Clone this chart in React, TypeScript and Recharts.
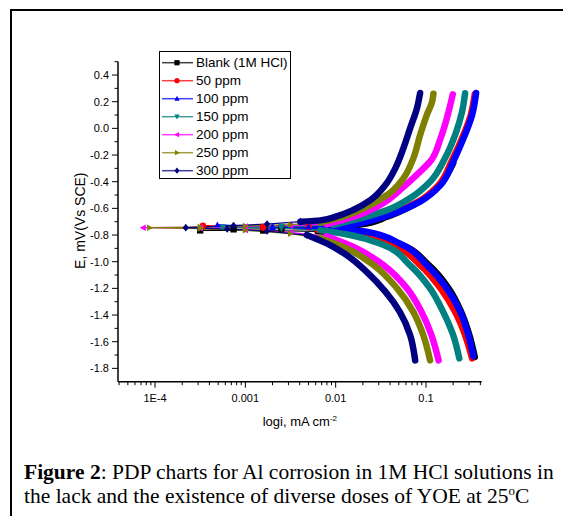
import React from 'react';
import { LineChart, Line, XAxis, YAxis } from 'recharts';

// [current i (mA cm^-2), potential E (V)], from cathodic end through Ecorr to anodic end
const blank: [number, number][] = [
  [0.347, -1.715], [0.302, -1.55], [0.245, -1.376], [0.178, -1.2], [0.107, -1.025],
  [0.0513, -0.87], [0.02, -0.79], [0.00631, -0.772], [0.00158, -0.766], [0.000316, -0.765],
  [0.00074, -0.757], [0.00251, -0.752], [0.00631, -0.745], [0.0112, -0.74], [0.0186, -0.722],
  [0.0372, -0.663], [0.0724, -0.575], [0.12, -0.475], [0.17, -0.35], [0.2, -0.263],
];
const ppm50: [number, number][] = [
  [0.324, -1.725], [0.271, -1.55], [0.21, -1.376], [0.145, -1.2], [0.0861, -1.025],
  [0.0437, -0.875], [0.0186, -0.79], [0.00631, -0.76], [0.00158, -0.745], [0.000339, -0.73],
  [0.00158, -0.737], [0.00501, -0.74], [0.0107, -0.735], [0.0209, -0.7], [0.0417, -0.64],
  [0.0822, -0.55], [0.138, -0.425], [0.191, -0.25], [0.251, -0.075], [0.313, 0.1], [0.347, 0.255],
];
const ppm100: [number, number][] = [
  [0.335, -1.71], [0.295, -1.55], [0.24, -1.376], [0.17, -1.2], [0.102, -1.025],
  [0.0513, -0.863], [0.0219, -0.775], [0.00794, -0.755], [0.002, -0.745], [0.00049, -0.725],
  [0.002, -0.735], [0.00501, -0.74], [0.0112, -0.735], [0.0219, -0.7], [0.0437, -0.64],
  [0.0861, -0.55], [0.145, -0.425], [0.2, -0.25], [0.26, -0.075], [0.324, 0.1], [0.359, 0.265],
];
const ppm150: [number, number][] = [
  [0.234, -1.725], [0.2, -1.55], [0.155, -1.376], [0.111, -1.2], [0.0661, -1.025],
  [0.0339, -0.875], [0.0145, -0.8], [0.00676, -0.763], [0.00251, -0.75], [0.000562, -0.74],
  [0.00251, -0.735], [0.00933, -0.725], [0.0186, -0.675], [0.0372, -0.613], [0.0661, -0.525],
  [0.111, -0.4], [0.162, -0.225], [0.21, -0.05], [0.251, 0.125], [0.271, 0.263],
];
const ppm200: [number, number][] = [
  [0.138, -1.74], [0.115, -1.55], [0.0891, -1.376], [0.0617, -1.2], [0.0339, -1.025],
  [0.0158, -0.89], [0.00794, -0.81], [0.00316, -0.78], [0.001, -0.762], [0.000316, -0.75],
  [0.0000741, -0.745], [0.000316, -0.742], [0.001, -0.735], [0.00316, -0.728], [0.00794, -0.72],
  [0.0158, -0.663], [0.0309, -0.575], [0.0562, -0.44], [0.0861, -0.325], [0.111, -0.25],
  [0.145, -0.075], [0.178, 0.125], [0.198, 0.255],
];
const ppm250: [number, number][] = [
  [0.111, -1.74], [0.0933, -1.55], [0.0724, -1.376], [0.0479, -1.2], [0.0263, -1.025],
  [0.0132, -0.9], [0.00676, -0.825], [0.00316, -0.79], [0.001, -0.765], [0.000316, -0.752],
  [0.0000871, -0.745], [0.000316, -0.74], [0.001, -0.732], [0.00316, -0.722], [0.00676, -0.705],
  [0.0123, -0.66], [0.0221, -0.588], [0.0372, -0.5], [0.0562, -0.375], [0.0724, -0.225],
  [0.0861, -0.05], [0.102, 0.1], [0.117, 0.2], [0.121, 0.26],
];
const ppm300: [number, number][] = [
  [0.0759, -1.74], [0.0667, -1.55], [0.0513, -1.376], [0.0355, -1.225], [0.0219, -1.075],
  [0.0132, -0.95], [0.00794, -0.863], [0.00479, -0.8], [0.00174, -0.77], [0.00063, -0.755],
  [0.000219, -0.745], [0.00074, -0.73], [0.00174, -0.718], [0.00407, -0.7], [0.00676, -0.69],
  [0.0102, -0.66], [0.0158, -0.61], [0.024, -0.54], [0.0355, -0.425], [0.0457, -0.3],
  [0.0562, -0.15], [0.0667, 0.0], [0.0794, 0.15], [0.0861, 0.265],
];

const seriesNames = ['Blank (1M HCl)', '50 ppm', '100 ppm', '150 ppm', '200 ppm', '250 ppm', '300 ppm'];
const seriesData = [blank, ppm50, ppm100, ppm150, ppm200, ppm250, ppm300];
const seriesColors = ['#000000', '#FF0000', '#0000FF', '#008080', '#FF00FF', '#808000', '#000080'];
const seriesShapes = ['square', 'circle', 'up', 'down', 'left', 'right', 'diamond'];

const xMajorTicks = [0.0001, 0.001, 0.01, 0.1];
const xMajorLabels = ['1E-4', '0.001', '0.01', '0.1'];
const xMinorTicks = [
  0.00004, 0.00005, 0.00006, 0.00007, 0.00008, 0.00009,
  0.0002, 0.0003, 0.0004, 0.0005, 0.0006, 0.0007, 0.0008, 0.0009,
  0.002, 0.003, 0.004, 0.005, 0.006, 0.007, 0.008, 0.009,
  0.02, 0.03, 0.04, 0.05, 0.06, 0.07, 0.08, 0.09,
  0.2, 0.3, 0.4,
];
const xDomain = [0.0000389, 0.414];

const yMajorTicks = [-1.8, -1.6, -1.4, -1.2, -1.0, -0.8, -0.6, -0.4, -0.2, 0.0, 0.2, 0.4];
const yMajorLabels = ['-1.8', '-1.6', '-1.4', '-1.2', '-1.0', '-0.8', '-0.6', '-0.4', '-0.2', '0.0', '0.2', '0.4'];
const yMinorTicks = [-1.7, -1.5, -1.3, -1.1, -0.9, -0.7, -0.5, -0.3, -0.1, 0.1, 0.3, 0.5];
const yDomain = [-1.9, 0.5];

const SANS = 'Arial, "Liberation Sans", sans-serif';
const SERIF = '"Times New Roman", "Liberation Serif", serif';

function Marker({ shape, cx, cy, r, color }: any) {
  switch (shape) {
    case 'square':
      return <rect x={cx - r} y={cy - r} width={2 * r} height={2 * r} fill={color} />;
    case 'circle':
      return <circle cx={cx} cy={cy} r={r} fill={color} />;
    case 'up':
      return <polygon points={`${cx},${cy - r * 1.1} ${cx + r},${cy + r * 0.8} ${cx - r},${cy + r * 0.8}`} fill={color} />;
    case 'down':
      return <polygon points={`${cx},${cy + r * 1.1} ${cx + r},${cy - r * 0.8} ${cx - r},${cy - r * 0.8}`} fill={color} />;
    case 'left':
      return <polygon points={`${cx - r * 1.1},${cy} ${cx + r * 0.8},${cy - r} ${cx + r * 0.8},${cy + r}`} fill={color} />;
    case 'right':
      return <polygon points={`${cx + r * 1.1},${cy} ${cx - r * 0.8},${cy - r} ${cx - r * 0.8},${cy + r}`} fill={color} />;
    default:
      return <polygon points={`${cx},${cy - r * 1.2} ${cx + r},${cy} ${cx},${cy + r * 1.2} ${cx - r},${cy}`} fill={color} />;
  }
}

const XTick = (props: any) => {
  const { x, y, payload } = props;
  const idx = xMajorTicks.indexOf(payload.value);
  const major = idx >= 0;
  return (
    <g>
      <line x1={x} x2={x} y1={y} y2={y + (major ? 6 : 3.5)} stroke="#000" strokeWidth={1} />
      {major && (
        <text x={x} y={y + 20} textAnchor="middle" fontSize={11} fontFamily={SANS} fill="#000">
          {xMajorLabels[idx]}
        </text>
      )}
    </g>
  );
};

const YTick = (props: any) => {
  const { x, y, payload } = props;
  const idx = yMajorTicks.indexOf(payload.value);
  const major = idx >= 0;
  return (
    <g>
      <line x1={x - (major ? 6 : 3.5)} x2={x} y1={y} y2={y} stroke="#000" strokeWidth={1} />
      {major && (
        <text x={x - 9} y={y + 4} textAnchor="end" fontSize={11} fontFamily={SANS} fill="#000">
          {yMajorLabels[idx]}
        </text>
      )}
    </g>
  );
};

const XLabel = (props: any) => {
  const vb = props.viewBox;
  const cx = vb.x + vb.width / 2;
  return (
    <text x={cx} y={vb.y + 44} textAnchor="middle" fontSize={13} fontFamily={SANS} fill="#000">
      logi, mA cm<tspan dy={-5} fontSize={8}>-2</tspan>
    </text>
  );
};

const YLabel = (props: any) => {
  const vb = props.viewBox;
  const cy = vb.y + vb.height / 2 - 1;
  const cx = vb.x + 27.5;
  return (
    <text x={cx} y={cy} transform={`rotate(-90 ${cx} ${cy})`} textAnchor="middle" fontSize={14} fontFamily={SANS} fill="#000">
      E, mV(Vs SCE)
    </text>
  );
};

function toPoints(arr: [number, number][]) {
  return arr.map(([i, E]) => ({ i, E }));
}

const BAND_MIN = 0.004;

export default function App() {
  const bands: any[] = [];
  seriesData.forEach((arr, s) => {
    const pts = toPoints(arr);
    let tip = 0;
    pts.forEach((p, k) => { if (p.i < pts[tip].i) tip = k; });
    const cath = pts.slice(0, tip + 1).filter((p) => p.i >= BAND_MIN);
    const anod = pts.slice(tip).filter((p) => p.i >= BAND_MIN);
    bands.push({ s, pts, cath, anod });
  });

  return (
    <div style={{ position: 'absolute', left: 0, top: 0, width: 563, height: 516, overflow: 'hidden', background: '#fff' }}>
      <div style={{ position: 'absolute', left: 10, top: 9, width: 700, height: 700, borderTop: '2px solid #000', borderLeft: '2px solid #000' }} />
      <div style={{ position: 'absolute', left: 0, top: 0 }}>
        <LineChart width={563} height={440} margin={{ top: 61.7, right: 81.3, bottom: 18.3, left: 58 }}>
          <XAxis
            type="number"
            dataKey="i"
            scale="log"
            domain={xDomain}
            allowDataOverflow
            ticks={[...xMinorTicks, ...xMajorTicks]}
            interval={0}
            tick={<XTick />}
            tickLine={false}
            tickSize={0}
            tickMargin={0}
            height={40}
            axisLine={{ stroke: '#000', strokeWidth: 1.5 }}
            label={<XLabel />}
          />
          <YAxis
            type="number"
            dataKey="E"
            domain={yDomain}
            allowDataOverflow
            ticks={[...yMinorTicks, ...yMajorTicks]}
            interval={0}
            tick={<YTick />}
            tickLine={false}
            tickSize={0}
            tickMargin={0}
            width={60}
            axisLine={{ stroke: '#000', strokeWidth: 1.5 }}
            label={<YLabel />}
          />
          {bands.flatMap((b) => [
            <Line key={`c${b.s}`} data={b.cath} dataKey="E" type="monotoneY" stroke={seriesColors[b.s]} strokeWidth={6.5}
              strokeLinejoin="round" strokeLinecap="round" dot={false} activeDot={false} isAnimationActive={false} legendType="none" />,
            <Line key={`a${b.s}`} data={b.anod} dataKey="E" type="monotoneY" stroke={seriesColors[b.s]} strokeWidth={6.5}
              strokeLinejoin="round" strokeLinecap="round" dot={false} activeDot={false} isAnimationActive={false} legendType="none" />,
            <Line key={`f${b.s}`} data={b.pts} dataKey="E" name={seriesNames[b.s]} type="linear" stroke={seriesColors[b.s]} strokeWidth={1.2}
              dot={(p: any) =>
                p.payload && p.payload.i < BAND_MIN * 1.5
                  ? <Marker key={`m${b.s}-${p.index}`} shape={seriesShapes[b.s]} cx={p.cx} cy={p.cy} r={3.2} color={seriesColors[b.s]} />
                  : <g key={`m${b.s}-${p.index}`} />}
              activeDot={false} isAnimationActive={false} />,
          ])}
        </LineChart>
      </div>
      <svg style={{ position: 'absolute', left: 159, top: 51 }} width={132} height={128}>
        <rect x={0.5} y={0.5} width={131} height={127} fill="#fff" stroke="#000" strokeWidth={1} />
        {seriesNames.map((n, k) => {
          const cy = 11.7 + k * 18;
          return (
            <g key={n}>
              <line x1={3} x2={34} y1={cy} y2={cy} stroke={seriesColors[k]} strokeWidth={1.5} opacity={0.75} />
              <Marker shape={seriesShapes[k]} cx={18} cy={cy} r={2.6} color={seriesColors[k]} />
              <text x={37} y={cy + 4.5} fontSize={13.5} fontFamily={SANS} fill="#000">{n}</text>
            </g>
          );
        })}
      </svg>
      <div style={{ position: 'absolute', left: 24, top: 460, fontFamily: SERIF, fontSize: 21.5, lineHeight: '24px', color: '#000', whiteSpace: 'nowrap' }}>
        <div><b>Figure 2</b>: PDP charts for Al corrosion in 1M HCl solutions in</div>
        <div>the lack and the existence of diverse doses of YOE at 25<sup style={{ fontSize: 13, verticalAlign: 'top', lineHeight: '14px' }}>o</sup>C</div>
      </div>
    </div>
  );
}
